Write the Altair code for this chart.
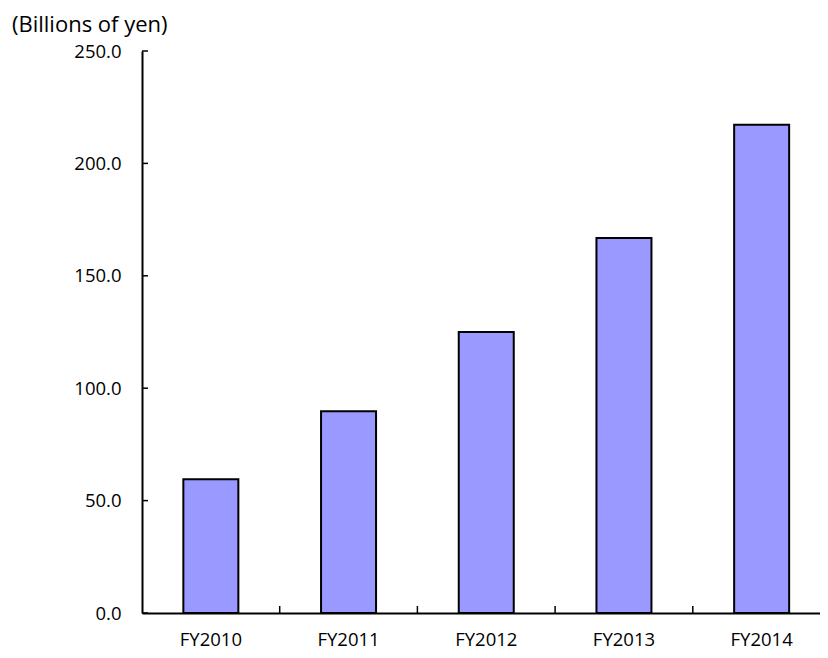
import altair as alt
import pandas as pd

categories = ["FY2010", "FY2011", "FY2012", "FY2013", "FY2014"]
values = [59.5, 89.7, 125.0, 166.8, 217.2]
y_tick_values = [0, 50, 100, 150, 200, 250]
x_tick_cats = ["FY2011", "FY2012", "FY2013", "FY2014"]
unit_label = "(Billions of yen)"

FONT = "Open Sans"
FS = 18.5
W, H = 678, 562
X_RANGE = 688.5

bar_df = pd.DataFrame({"cat": categories, "val": values})
ytick_df = pd.DataFrame({"val": y_tick_values})
xtick_df = pd.DataFrame({"cat": x_tick_cats})
title_df = pd.DataFrame({"t": [unit_label]})

xscale = alt.Scale(domain=categories, paddingInner=0, paddingOuter=0, range=[0, X_RANGE])
yscale = alt.Scale(domain=[0, 250], nice=False)

xaxis = alt.Axis(title=None, ticks=False, labelAngle=0, labelPadding=17,
                 labelFontSize=FS, labelFont=FONT, labelColor="black",
                 domainColor="black", domainWidth=2, grid=False)
yaxis = alt.Axis(title=None, values=y_tick_values, format=".1f", ticks=False,
                 labelPadding=21, labelFontSize=FS, labelFont=FONT,
                 labelColor="black", domainColor="black", domainWidth=2,
                 grid=False)

bars = alt.Chart(bar_df).mark_bar(
    size=55, color="#9999FF", stroke="black", strokeWidth=2
).encode(
    x=alt.X("cat:N", sort=categories, scale=xscale, axis=xaxis),
    y=alt.Y("val:Q", scale=yscale, axis=yaxis),
)

yticks = alt.Chart(ytick_df).mark_rule(color="black", strokeWidth=1.5).encode(
    y=alt.Y("val:Q", scale=yscale, axis=yaxis),
    x=alt.value(0),
    x2=alt.value(6),
)

xticks = alt.Chart(xtick_df).mark_rule(color="black", strokeWidth=1.5).encode(
    x=alt.X("cat:N", sort=categories, scale=xscale, bandPosition=0, axis=xaxis),
    y=alt.value(H - 7),
    y2=alt.value(H),
)

title = alt.Chart(title_df).mark_text(
    align="left", baseline="alphabetic", font=FONT, fontSize=22, color="black"
).encode(
    x=alt.value(-130),
    y=alt.value(-19),
    text="t:N",
)

chart = alt.layer(bars, yticks, xticks, title).properties(
    width=W,
    height=H,
    autosize=alt.AutoSizeParams(type="none"),
    padding={"left": 134, "top": 43, "right": 0, "bottom": 37},
).configure_view(stroke=None)

chart.save("out.html", embed_options={"renderer": "svg", "actions": False})
